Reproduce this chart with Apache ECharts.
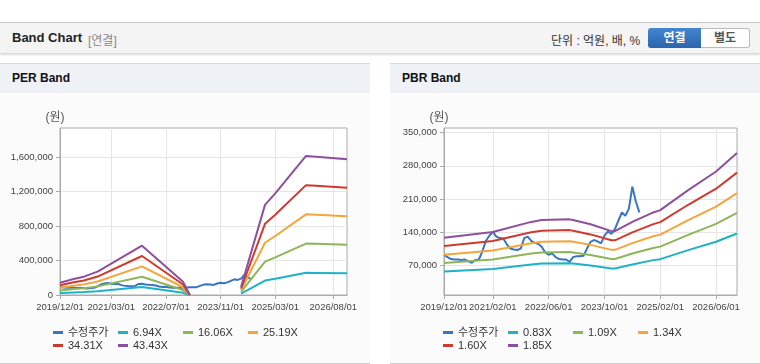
<!DOCTYPE html>
<html>
<head>
<meta charset="utf-8">
<script src="https://cdn.jsdelivr.net/npm/echarts@6/dist/echarts.min.js"></script>
<style>
  body { margin: 0; width: 760px; height: 364px; background: #fff; position: relative; overflow: hidden;
         font-family: "Liberation Sans", "Noto Sans CJK KR", sans-serif; }
  #hdr { position: absolute; left: 0; top: 22px; width: 760px; height: 30px; background: #f4f4f4;
         border-top: 1px solid #c8c8c8; box-shadow: 0 2px 2px rgba(0,0,0,0.15); }
  #hdr div { position: absolute; white-space: nowrap; }
  .ttl { left: 12px; top: 7px; font-size: 13px; font-weight: bold; color: #222; }
  .sub { left: 88px; top: 8px; font-size: 12px; color: #888; }
  .unit { left: 551px; top: 8px; font-size: 12px; color: #333; }
  .btn { top: 5px; height: 20px; line-height: 20px; text-align: center; font-size: 12px; font-weight: bold; }
  .on { left: 648px; width: 53px; background: linear-gradient(#4586d0, #2a64ad); color: #fff; border-radius: 3px 0 0 3px; }
  .off { left: 701px; width: 48px; height: 18px !important; line-height: 18px !important; background: #fff; color: #555;
         border: 1px solid #bbb; border-left: none; border-radius: 0 3px 3px 0; }
  .panel { position: absolute; top: 63px; width: 370px; height: 299px; background: #fbfbfb;
           border-top: 1px solid #d8d8d8; border-bottom: 1px solid #ccc; }
  .ptitle { height: 29px; line-height: 29px; background: #eef2f7; padding-left: 12px; font-size: 12px; font-weight: bold; color: #111; }
  .chart { width: 370px; height: 270px; }
</style>
</head>
<body>
<div id="hdr">
  <div class="ttl">Band Chart</div>
  <div class="sub">[연결]</div>
  <div class="unit">단위 : 억원, 배, %</div>
  <div class="btn on">연결</div>
  <div class="btn off">별도</div>
</div>
<div class="panel" style="left:0">
  <div class="ptitle">PER Band</div>
  <div id="per" class="chart"></div>
</div>
<div class="panel" style="left:390px">
  <div class="ptitle">PBR Band</div>
  <div id="pbr" class="chart"></div>
</div>
<script>
var months = [
  '2019/12/01',
  '2020/01/01','2020/02/01','2020/03/01','2020/04/01','2020/05/01','2020/06/01','2020/07/01','2020/08/01','2020/09/01','2020/10/01','2020/11/01','2020/12/01',
  '2021/01/01','2021/02/01','2021/03/01','2021/04/01','2021/05/01','2021/06/01','2021/07/01','2021/08/01','2021/09/01','2021/10/01','2021/11/01','2021/12/01',
  '2022/01/01','2022/02/01','2022/03/01','2022/04/01','2022/05/01','2022/06/01','2022/07/01','2022/08/01','2022/09/01','2022/10/01','2022/11/01','2022/12/01',
  '2023/01/01','2023/02/01','2023/03/01','2023/04/01','2023/05/01','2023/06/01','2023/07/01','2023/08/01','2023/09/01','2023/10/01','2023/11/01','2023/12/01',
  '2024/01/01','2024/02/01','2024/03/01','2024/04/01','2024/05/01','2024/06/01','2024/07/01','2024/08/01','2024/09/01','2024/10/01','2024/11/01','2024/12/01',
  '2025/01/01','2025/02/01','2025/03/01','2025/04/01','2025/05/01','2025/06/01','2025/07/01','2025/08/01','2025/09/01','2025/10/01','2025/11/01','2025/12/01',
  '2026/01/01','2026/02/01','2026/03/01','2026/04/01','2026/05/01','2026/06/01','2026/07/01','2026/08/01','2026/09/01','2026/10/01','2026/11/01','2026/12/01'
];

var perTicks = ['2019/12/01', '2021/03/01', '2022/07/01', '2023/11/01', '2025/03/01', '2026/08/01'];
var pbrTicks = ['2019/12/01', '2021/02/01', '2022/06/01', '2023/10/01', '2025/02/01', '2026/06/01'];

// 수정주가, monthly from 2019/12
var price = [93000, 88000, 84000, 83000, 83000, 82000, 83000, 79000, 76000, 82000,
  83000, 100000, 122000, 133000, 141000, 131000, 128000, 127000, 115000, 106000,
  104000, 103000, 106000, 128000, 131000, 122000, 118000, 116000, 110000, 98000,
  93000, 96000, 88000, 84000, 83000, 83000, 78000, 88000, 90000, 90000,
  91000, 106000, 120000, 124000, 121000, 117000, 133000, 142000, 137000, 147000,
  165000, 182000, 175000, 190000, 236000, 205000, 182000];

// PER band points (month index), null = gap
var perIdx = [0, 4, 7, 11, 24, 36, 38, 45, 53, 60, 63, 72, 75, 84];
var per694 = [22900, 29800, 34000, 43300, 91600, 24800, 0, null, 15300, 167300, 188800, 258200, 256800, 251900];
var per1606 = [53000, 69100, 78700, 100200, 212000, 57300, 0, null, 35300, 387000, 436800, 597400, 594200, 583000];
var per2519 = [83100, 108300, 123400, 157200, 332500, 89900, 0, null, 55400, 607100, 685200, 937100, 932000, 914400];
var per3431 = [113200, 147500, 168100, 214100, 452900, 122500, 0, null, 75500, 826900, 933200, 1276300, 1269500, 1245500];
var per4343 = [143300, 186700, 212800, 271000, 573300, 155000, 0, null, 95500, 1046700, 1181300, 1615600, 1606900, 1576500];

// PBR band points (month index)
var pbrIdx = [0, 14, 25, 28, 36, 37, 42, 48, 49, 54, 60, 62, 70, 78, 84];
var pbr083 = [57700, 63200, 72700, 74500, 75100, 74500, 70500, 64000, 64000, 72700, 81700, 83800, 102800, 120300, 137800];
var pbr109 = [75800, 83100, 95500, 97800, 98600, 97800, 92500, 84000, 84000, 95500, 107300, 110100, 134900, 157900, 180900];
var pbr134 = [93100, 102100, 117400, 120200, 121300, 120200, 113800, 103300, 103300, 117400, 131900, 135300, 165900, 194200, 222400];
var pbr160 = [111200, 121900, 140200, 143500, 144800, 143500, 135800, 123400, 123400, 140200, 157400, 161600, 198100, 231800, 265600];
var pbr185 = [128600, 141000, 162100, 165900, 167400, 165900, 157100, 142600, 142600, 162100, 182000, 186900, 229000, 268100, 307100];

var perYTicks = [0, 400000, 800000, 1200000, 1600000];
var pbrYTicks = [70000, 140000, 210000, 280000, 350000];

var colors = ['#3a75c4', '#1fb2c6', '#8db55a', '#f4a53b', '#cf3a2f', '#8e4f9c'];
var font = '"Liberation Sans", "Noto Sans CJK KR", sans-serif';

function pairs(idx, vals) {
  return idx.map(function (m, i) { return [m, vals[i]]; });
}

function buildOption(names, bands, idx, ticks, yMin, yMax, yTicks) {
  var showTick = function (i, v) { return ticks.indexOf(months[i]) >= 0; };
  var series = [{ name: names[0], data: price }];
  for (var k = 0; k < bands.length; k++) {
    series.push({ name: names[k + 1], data: pairs(idx, bands[k]) });
  }
  series.forEach(function (s, i) {
    s.type = 'line';
    s.symbol = 'none';
    s.connectNulls = false;
    s.lineStyle = { width: 2, color: colors[i] };
    s.itemStyle = { color: colors[i] };
  });
  return {
    animation: false,
    color: colors,
    textStyle: { fontFamily: font },
    grid: { left: 60, right: 23, top: 35, bottom: 68, show: true, borderColor: '#aaa', backgroundColor: '#fff' },
    legend: {
      data: names, left: 53, top: 233, width: 265, padding: 0, itemGap: 0,
      icon: 'rect', itemWidth: 10, itemHeight: 3,
      textStyle: { fontSize: 11, width: 50, lineHeight: 13, color: '#333', fontFamily: font }
    },
    xAxis: {
      type: 'category', data: months, boundaryGap: false,
      axisLine: { lineStyle: { color: '#aaa' } },
      axisTick: { interval: showTick, length: 4, lineStyle: { color: '#aaa' } },
      axisLabel: { interval: showTick, color: '#444', fontSize: 9.5, margin: 8,
                   hideOverlap: false, showMinLabel: true, showMaxLabel: true },
      splitLine: { show: true, interval: showTick, lineStyle: { color: '#e6e6e6' } }
    },
    yAxis: {
      type: 'value', min: yMin, max: yMax,
      name: '(원)', nameLocation: 'end', nameGap: 4,
      nameTextStyle: { color: '#555', fontSize: 12, padding: [0, 10, 0, 0] },
      axisLine: { show: true, lineStyle: { color: '#aaa' } },
      axisTick: { show: true, length: 4, lineStyle: { color: '#aaa' }, customValues: yTicks },
      axisLabel: {
        customValues: yTicks, color: '#444', fontSize: 9.5, margin: 7, showMinLabel: true,
        formatter: function (v) { return v.toLocaleString('en-US'); }
      },
      splitLine: { show: true, lineStyle: { color: '#e6e6e6' } }
    },
    series: series
  };
}

var perChart = echarts.init(document.getElementById('per'));
perChart.setOption(buildOption(
  ['수정주가', '6.94X', '16.06X', '25.19X', '34.31X', '43.43X'],
  [per694, per1606, per2519, per3431, per4343], perIdx, perTicks, 0, 1940000, perYTicks));

var pbrOption = buildOption(
  ['수정주가', '0.83X', '1.09X', '1.34X', '1.60X', '1.85X'],
  [pbr083, pbr109, pbr134, pbr160, pbr185], pbrIdx, pbrTicks, 8400, 359500, pbrYTicks);
pbrOption.grid.left = 54;
var pbrChart = echarts.init(document.getElementById('pbr'));
pbrChart.setOption(pbrOption);
</script>
</body>
</html>
